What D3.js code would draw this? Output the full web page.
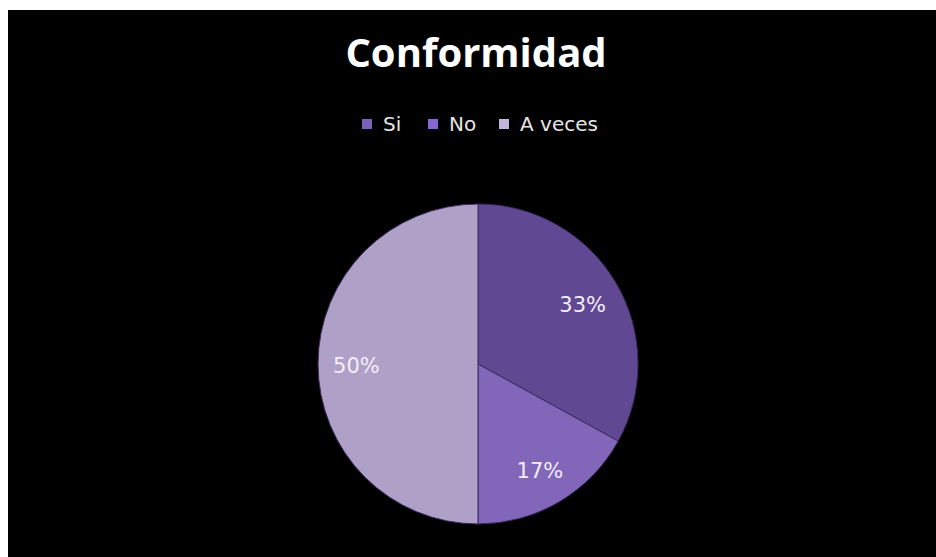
<!DOCTYPE html>
<html>
<head>
<meta charset="utf-8">
<script src="https://cdn.jsdelivr.net/npm/d3@7"></script>
<style>
  html, body { margin: 0; padding: 0; background: #ffffff; }
  svg { display: block; }
</style>
</head>
<body>
<svg id="chart" width="936" height="557"></svg>
<script>
// Survey answers: share of each response (percent)
const categories = ["Si", "No", "A veces"];
const values = [33, 17, 50];
const sliceColors = ["#6f53aa", "#9576d6", "#c9b9e6"];
const legendColors = ["#7862b8", "#8467d0", "#c0b7d8"];

const svg = d3.select("#chart");
const W = 936, H = 557;

// dark chart area
svg.append("rect")
  .attr("x", 8).attr("y", 10)
  .attr("width", W - 8).attr("height", H - 10)
  .attr("fill", "#000000");

// title
svg.append("text")
  .attr("x", 476).attr("y", 67)
  .attr("text-anchor", "middle")
  .attr("font-family", "'Open Sans', sans-serif")
  .attr("font-weight", "bold")
  .attr("font-size", 40)
  .attr("fill", "#ffffff")
  .text("Conformidad");

// legend
const legendX = [362, 428, 499];
const legend = svg.append("g");
categories.forEach((c, i) => {
  legend.append("rect")
    .attr("x", legendX[i]).attr("y", 119)
    .attr("width", 10).attr("height", 10)
    .attr("fill", legendColors[i]);
  legend.append("text")
    .attr("x", legendX[i] + 21).attr("y", 131)
    .attr("font-family", "'DejaVu Sans', sans-serif")
    .attr("font-size", 20)
    .attr("fill", "#e6e6e6")
    .text(c);
});

// pie
const cx = 478, cy = 364, r = 160;
const defs = svg.append("defs");
categories.forEach((c, i) => {
  const base = d3.color(sliceColors[i]);
  const g = defs.append("radialGradient")
    .attr("id", "bevel" + i)
    .attr("gradientUnits", "userSpaceOnUse")
    .attr("cx", cx).attr("cy", cy).attr("r", r);
  g.append("stop").attr("offset", "0").attr("stop-color", base);
  g.append("stop").attr("offset", "0.88").attr("stop-color", base);
  g.append("stop").attr("offset", "0.95").attr("stop-color", base.brighter(0.3));
  g.append("stop").attr("offset", "1").attr("stop-color", base.darker(0.4));
});

const pie = d3.pie().sort(null).value(d => d.value);
const arcs = pie(categories.map((c, i) => ({ name: c, value: values[i], i })));
const arc = d3.arc().innerRadius(0).outerRadius(r);
const labelArc = d3.arc().innerRadius(r * 0.76).outerRadius(r * 0.76);

const g = svg.append("g").attr("transform", `translate(${cx},${cy})`);
g.selectAll("path.slice")
  .data(arcs)
  .join("path")
  .attr("class", "slice")
  .attr("d", arc)
  .attr("fill", d => `url(#bevel${d.data.i})`)
  .attr("stroke", "#3b2a5c")
  .attr("stroke-width", 1);

g.selectAll("text.lbl")
  .data(arcs)
  .join("text")
  .attr("class", "lbl")
  .attr("transform", d => `translate(${labelArc.centroid(d)})`)
  .attr("text-anchor", "middle")
  .attr("dy", "0.45em")
  .attr("font-family", "'DejaVu Sans', sans-serif")
  .attr("font-size", 21)
  .attr("fill", "#f3eefa")
  .text(d => d.data.value + "%");
</script>
</body>
</html>
